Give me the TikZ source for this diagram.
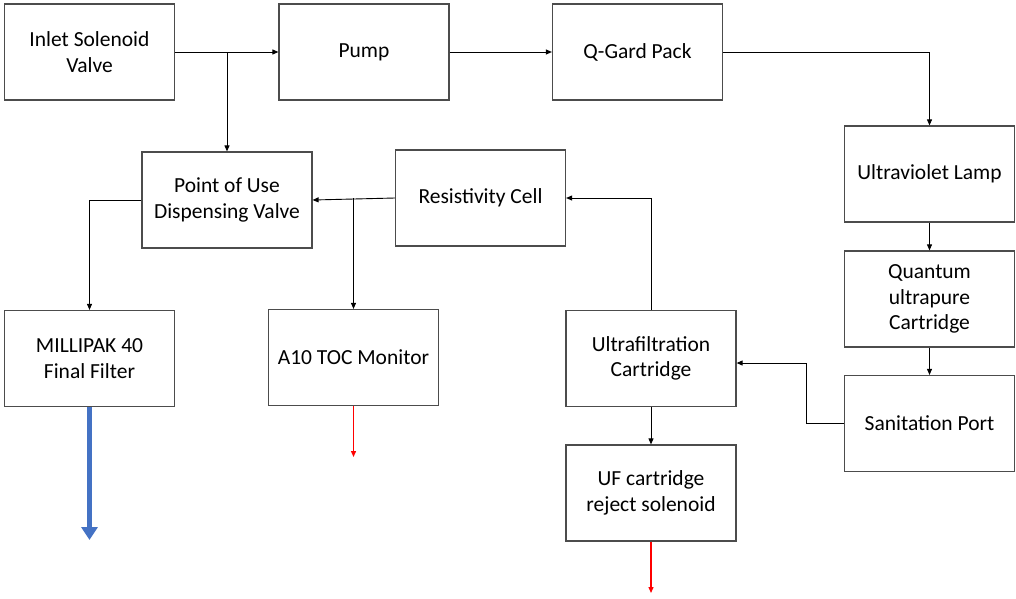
\documentclass[tikz,border=0pt]{standalone}
\usepackage{fontspec}
\setmainfont{Carlito}
\usetikzlibrary{arrows.meta}
\begin{document}
\begin{tikzpicture}[x=1pt,y=-1pt,
  box/.style={draw=black!70,line width=1.2pt,minimum width=170pt,minimum height=96pt,align=center,inner sep=0pt,font=\fontsize{21.5}{25.5}\selectfont},
  arr/.style={draw=black,line width=0.9pt,-{Triangle[length=6pt,width=5pt]}},
  redarr/.style={draw=red,line width=1.3pt,-{Triangle[length=6pt,width=5pt]}},
  bluearr/.style={draw={rgb,255:red,68;green,114;blue,196},line width=5pt,-{Triangle[length=13pt,width=16pt]}}]
\useasboundingbox (0,0) rectangle (1016,598);
\node[box] (inlet) at (89.5,52) {Inlet Solenoid\\Valve};
\node[box] (pump) at (364,52) {Pump};
\node[box] (qgard) at (637.5,52) {Q-Gard Pack};
\node[box] (uv) at (929.5,174) {Ultraviolet Lamp};
\node[box] (quantum) at (929.5,299) {Quantum\\ultrapure\\Cartridge};
\node[box] (sanit) at (929.5,423.5) {Sanitation Port};
\node[box] (pou) at (227,200) {Point of Use\\Dispensing Valve};
\node[box] (resist) at (480.5,198) {Resistivity Cell};
\node[box] (milli) at (89.5,358.5) {MILLIPAK 40\\Final Filter};
\node[box] (a10) at (353.5,357.5) {A10 TOC Monitor};
\node[box] (ultra) at (651,358.5) {Ultrafiltration\\Cartridge};
\node[box] (ufrej) at (651,493) {UF cartridge\\reject solenoid};
\coordinate (ufout) at (651,593);
\coordinate (a10out) at (353.5,457);
\coordinate (milliout) at (89.5,540);
\coordinate (sanbend) at (806,423.5);
\draw[arr] (inlet.east) -- (pump.west);
\draw[arr] (inlet.east -| pou.north) -- (pou.north);
\draw[arr] (pump.east) -- (qgard.west);
\draw[arr] (qgard.east) -- (qgard.east -| uv.north) -- (uv.north);
\draw[arr] (uv.south) -- (quantum.north);
\draw[arr] (quantum.south) -- (sanit.north);
\draw[arr] (sanit.west) -- (sanbend) |- ([yshift=-4.5pt]ultra.east);
\draw[arr] (ultra.north) -- (ultra.north |- resist.east) -- (resist.east);
\draw[arr] (resist.west) -- (pou.east);
\draw[arr] (a10.north |- resist.west) -- (a10.north);
\draw[arr] (pou.west) -- (pou.west -| milli.north) -- (milli.north);
\draw[arr] (ultra.south) -- (ufrej.north);
\draw[redarr] (ufrej.south) -- (ufout);
\draw[redarr] (a10.south) -- (a10out);
\draw[bluearr] (milli.south) -- (milliout);
\end{tikzpicture}
\end{document}
